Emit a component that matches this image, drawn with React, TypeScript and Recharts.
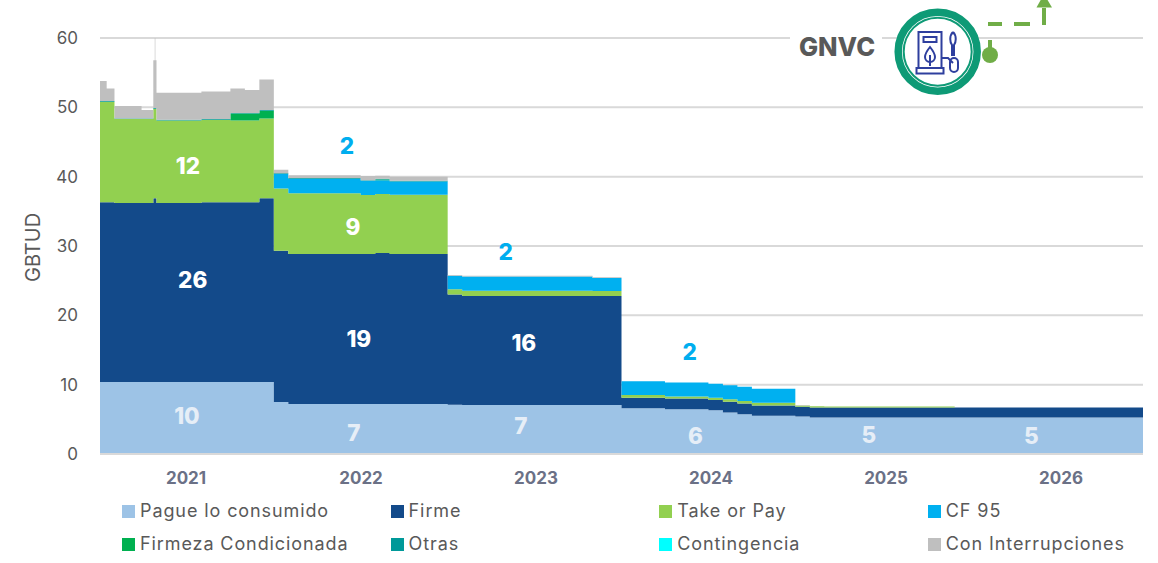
import React from "react";
import { AreaChart, Area, XAxis, YAxis, CartesianGrid, Legend, ReferenceDot } from "recharts";

const FONT = "Inter, sans-serif";

const YEARS = ["2021", "2022", "2023", "2024", "2025", "2026"];
const YEAR_TICKS = [5.94, 18.02, 30.1, 42.18, 54.26, 66.34];
const Y_TICKS = [0, 10, 20, 30, 40, 50, 60];

// x position in months since Jan 2021
const MONTHS = [
  0, 0.46, 1, 2, 2.87, 3.68, 3.78, 3.82, 3.9, 5, 6, 7, 8, 9, 10, 11,
  12, 13, 14, 15, 16, 17, 18, 19, 20, 21, 22, 23,
  24, 25, 26, 27, 28, 29, 30, 31, 32, 33, 34, 35,
  36, 37, 38, 39, 40, 41, 42, 43, 44, 45, 46, 47,
  48, 49, 50, 51, 52, 53, 54, 55, 56, 57, 58, 59,
  60, 61, 62, 63, 64, 65, 66, 67, 68, 69, 70, 71, 72,
];

const PAGUE = [
  10.4, 10.4, 10.4, 10.4, 10.4, 10.4, 10.4, 10.4, 10.4, 10.4, 10.4, 10.4, 10.4, 10.4, 10.4, 10.4,
  7.5, 7.2, 7.2, 7.2, 7.2, 7.2, 7.2, 7.2, 7.2, 7.2, 7.2, 7.2,
  7.1, 7.05, 7.05, 7.05, 7.05, 7.05, 7.05, 7.05, 7.05, 7.05, 7.05, 7.05,
  6.6, 6.6, 6.6, 6.45, 6.45, 6.45, 6.3, 6.0, 5.75, 5.5, 5.5, 5.5,
  5.4, 5.25, 5.25, 5.25, 5.25, 5.25, 5.25, 5.25, 5.25, 5.25, 5.25, 5.25,
  5.25, 5.25, 5.25, 5.25, 5.25, 5.25, 5.25, 5.25, 5.25, 5.25, 5.25, 5.25, 5.25,
];
const FIRME = [
  25.9, 25.9, 25.8, 25.8, 25.8, 26.5, 26.5, 26.5, 25.8, 25.8, 25.8, 25.9, 25.9, 25.9, 25.9, 26.5,
  21.8, 21.65, 21.65, 21.65, 21.65, 21.65, 21.65, 21.8, 21.65, 21.65, 21.65, 21.65,
  15.9, 15.75, 15.75, 15.75, 15.75, 15.75, 15.75, 15.75, 15.75, 15.75, 15.75, 15.75,
  1.5, 1.5, 1.5, 1.55, 1.55, 1.55, 1.5, 1.55, 1.55, 1.5, 1.5, 1.5,
  1.4, 1.45, 1.45, 1.45, 1.45, 1.45, 1.45, 1.45, 1.45, 1.45, 1.45, 1.45,
  1.45, 1.45, 1.45, 1.45, 1.45, 1.45, 1.45, 1.45, 1.45, 1.45, 1.45, 1.45, 1.45,
];
const TAKE_OR_PAY = [
  14.5, 14.5, 12.1, 12.1, 12.1, 12.9, 12.9, 12.9, 11.9, 11.9, 11.9, 11.9, 11.9, 11.8, 11.8, 11.5,
  9.0, 8.75, 8.75, 8.75, 8.75, 8.75, 8.5, 8.5, 8.55, 8.55, 8.55, 8.55,
  0.75, 0.75, 0.75, 0.75, 0.75, 0.75, 0.75, 0.75, 0.75, 0.75, 0.7, 0.7,
  0.4, 0.4, 0.4, 0.3, 0.3, 0.3, 0.3, 0.35, 0.35, 0.4, 0.4, 0.4,
  0.2, 0.2, 0.15, 0.15, 0.15, 0.15, 0.15, 0.15, 0.15, 0.15, 0.15, 0,
  0, 0, 0, 0, 0, 0, 0, 0, 0, 0, 0, 0, 0,
];
const CF95 = [
  0, 0, 0, 0, 0, 0, 0, 0, 0, 0, 0, 0, 0, 0, 0, 0,
  2.1, 2.1, 2.1, 2.1, 2.1, 2.1, 2.05, 2.0, 1.9, 1.9, 1.9, 1.9,
  1.95, 2.05, 2.05, 2.05, 2.05, 2.05, 2.05, 2.05, 2.05, 2.05, 1.9, 1.9,
  2.0, 2.0, 2.0, 2.0, 2.0, 2.0, 2.05, 2.0, 2.05, 2.0, 2.0, 2.0,
  0, 0, 0, 0, 0, 0, 0, 0, 0, 0, 0, 0,
  0, 0, 0, 0, 0, 0, 0, 0, 0, 0, 0, 0, 0,
];
const FIRMEZA = [
  0, 0, 0, 0, 0, 0, 0, 0, 0, 0, 0, 0, 0, 1.0, 1.0, 1.1,
  0, 0, 0, 0, 0, 0, 0, 0.1, 0, 0, 0, 0,
  0, 0, 0, 0, 0, 0, 0, 0, 0, 0, 0, 0,
  0, 0, 0, 0, 0, 0, 0, 0, 0, 0, 0, 0,
  0, 0, 0, 0, 0, 0, 0, 0, 0, 0, 0, 0,
  0, 0, 0, 0, 0, 0, 0, 0, 0, 0, 0, 0, 0,
];
const OTRAS = [
  0.1, 0.1, 0.1, 0.1, 0.1, 0.1, 0.1, 0.1, 0.1, 0.1, 0.1, 0.1, 0.1, 0.1, 0.1, 0.1,
  0.1, 0.1, 0.1, 0.1, 0.1, 0.1, 0.1, 0.1, 0.1, 0.1, 0.1, 0.1,
  0, 0, 0, 0, 0, 0, 0, 0, 0, 0, 0, 0,
  0, 0, 0, 0, 0, 0, 0, 0, 0, 0, 0, 0,
  0, 0, 0, 0, 0, 0, 0, 0, 0, 0, 0, 0,
  0, 0, 0, 0, 0, 0, 0, 0, 0, 0, 0, 0, 0,
];
const CONTINGENCIA = MONTHS.map(() => 0);
const CON_INTERRUPCIONES = [
  2.9, 1.8, 1.8, 1.8, 1.2, 6.9, 10.1, 6.9, 3.9, 3.9, 3.9, 4.0, 4.0, 3.5, 3.3, 4.4,
  0.5, 0.4, 0.4, 0.4, 0.4, 0.4, 0.6, 0.45, 0.6, 0.6, 0.6, 0.6,
  0.1, 0.1, 0.1, 0.1, 0.1, 0.1, 0.1, 0.1, 0.1, 0.1, 0.1, 0.1,
  0, 0, 0, 0, 0, 0, 0, 0, 0, 0, 0, 0,
  0.07, 0, 0, 0, 0, 0, 0, 0, 0, 0, 0, 0,
  0, 0, 0, 0, 0, 0, 0, 0, 0, 0, 0, 0, 0,
];

const SERIES_NAMES = ["Pague lo consumido", "Firme", "Take or Pay", "CF 95", "Firmeza Condicionada", "Otras", "Contingencia", "Con Interrupciones"];
const SERIES_COLORS = ["#9DC3E6", "#134A8A", "#92D050", "#00B0F0", "#00B050", "#009999", "#00FFFF", "#BFBFBF"];
const SERIES_VALUES = [PAGUE, FIRME, TAKE_OR_PAY, CF95, FIRMEZA, OTRAS, CONTINGENCIA, CON_INTERRUPCIONES];

const LABEL_TEXT = ["10", "26", "12", "2", "9", "19", "7", "2", "16", "7", "2", "6", "5", "5"];
const LABEL_X = [6.0, 6.4, 6.07, 17.05, 17.46, 17.87, 17.53, 28.0, 29.26, 29.05, 40.7, 41.1, 53.07, 64.3];
const LABEL_Y = [5.5, 25.05, 41.55, 44.45, 32.75, 16.55, 3.05, 29.15, 16.0, 4.05, 14.75, 2.55, 2.75, 2.55];
const LABEL_COLOR = ["#E6EEF7", "#fff", "#fff", "#00AEEF", "#fff", "#fff", "#E6EEF7", "#00AEEF", "#fff", "#E6EEF7", "#00AEEF", "#E6EEF7", "#E6EEF7", "#E6EEF7"];

const rows = MONTHS.map((x, i) => {
  const row: Record<string, number> = { x };
  SERIES_NAMES.forEach((n, s) => (row[n] = SERIES_VALUES[s][i]));
  return row;
});

function LegendGrid({ payload }: any) {
  return (
    <div style={{ display: "grid", gridTemplateColumns: "268.6px 268.6px 268.6px 230px", rowGap: 9, fontFamily: FONT, fontSize: 18, letterSpacing: 0.9, color: "#595959", lineHeight: "24px" }}>
      {(payload || []).map((p: any) => (
        <div key={p.value} style={{ display: "flex", alignItems: "center", whiteSpace: "nowrap" }}>
          <span style={{ width: 13, height: 13, background: p.color, marginRight: 5, display: "inline-block" }} />
          {p.value}
        </div>
      ))}
    </div>
  );
}

function Decoration() {
  const blue = "#2E3F9E";
  const green = "#70AD47";
  return (
    <svg width={1158} height={563} style={{ position: "absolute", left: 0, top: 0, pointerEvents: "none" }}>
      <rect x={790} y={30} width={92} height={20} fill="#fff" />
      <text x={837} y={55.5} textAnchor="middle" fontFamily={FONT} fontWeight={800} fontSize={25.5} fill="#595959">GNVC</text>
      <circle cx={937.7} cy={51.7} r={39.5} fill="#fff" stroke="#0E9A76" strokeWidth={7.5} />
      <circle cx={937.7} cy={51.7} r={34} fill="#fff" stroke="#0E9A76" strokeWidth={2} />
      <g fill="none" stroke={blue} strokeWidth={2}>
        <rect x={918.5} y={32} width={23} height={36} />
        <rect x={916.5} y={68} width={27} height={5.5} />
        <rect x={923.5} y={37} width={13} height={5} />
        <path d="M930 47 C926 52 925 55 925 57 A5 5 0 0 0 935 57 C935 55 934 52 930 47 Z" />
        <path d="M930 55 V66" />
        <path d="M941.5 58 H948 L953 63" />
        <path d="M953 32 C949 36 950 42 952 45 V56" />
        <path d="M953 32 C957 36 956 42 954 45 V56" />
        <rect x={950} y={58} width={8} height={14} rx={4} />
      </g>
      <g stroke={green} strokeWidth={4} fill="none">
        <path d="M990 55 V40" />
        <path d="M988 24 H1002" />
        <path d="M1014 24 H1030" />
        <path d="M1044 25 V8" />
      </g>
      <circle cx={990} cy={55} r={8} fill={green} />
      <path d="M1036.5 7.5 L1044 -6 L1052 7.5 Z" fill={green} />
    </svg>
  );
}

export default function App() {
  return (
    <div style={{ position: "absolute", left: 0, top: 0, width: 1158, height: 563, background: "#fff" }}>
      <AreaChart width={1158} height={563} data={rows} margin={{ top: 38, right: 15, bottom: 0, left: 0 }} style={{ fontFamily: FONT }}>
        <CartesianGrid vertical={false} stroke="#D9D9D9" strokeWidth={2} />
        <XAxis
          type="number"
          dataKey="x"
          domain={[0, 72]}
          ticks={YEAR_TICKS}
          tickFormatter={(v: number) => YEARS[YEAR_TICKS.indexOf(v)]}
          height={109}
          tickSize={0}
          tickMargin={18}
          axisLine={{ stroke: "#D9D9D9", strokeWidth: 2 }}
          tick={{ fill: "#6B7186", fontSize: 17, fontWeight: 700 }}
        />
        <YAxis
          type="number"
          domain={[0, 60]}
          ticks={Y_TICKS}
          width={100}
          tickSize={0}
          tickMargin={22}
          axisLine={false}
          tick={{ fill: "#595959", fontSize: 17 }}
          label={{ value: "GBTUD", angle: -90, position: "insideLeft", dx: 28, dy: 36, fill: "#595959", fontSize: 20 }}
        />
        {SERIES_NAMES.map((n, i) => (
          <Area key={n} type="stepAfter" dataKey={n} stackId="a" stroke="none" fill={SERIES_COLORS[i]} fillOpacity={1} legendType="square" isAnimationActive={false} dot={false} activeDot={false} />
        ))}
        {LABEL_TEXT.map((t, i) => (
          <ReferenceDot
            key={i}
            x={LABEL_X[i]}
            y={LABEL_Y[i]}
            r={0}
            stroke="none"
            fill="none"
            ifOverflow="visible"
            label={{ value: t, position: "center", fill: LABEL_COLOR[i], fontSize: 22.5, fontWeight: 800 }}
          />
        ))}
        <Legend layout="horizontal" verticalAlign="middle" align="center" itemSorter={null} wrapperStyle={{ left: 122, top: 499, width: 1036 }} content={<LegendGrid />} />
      </AreaChart>
      <Decoration />
    </div>
  );
}
